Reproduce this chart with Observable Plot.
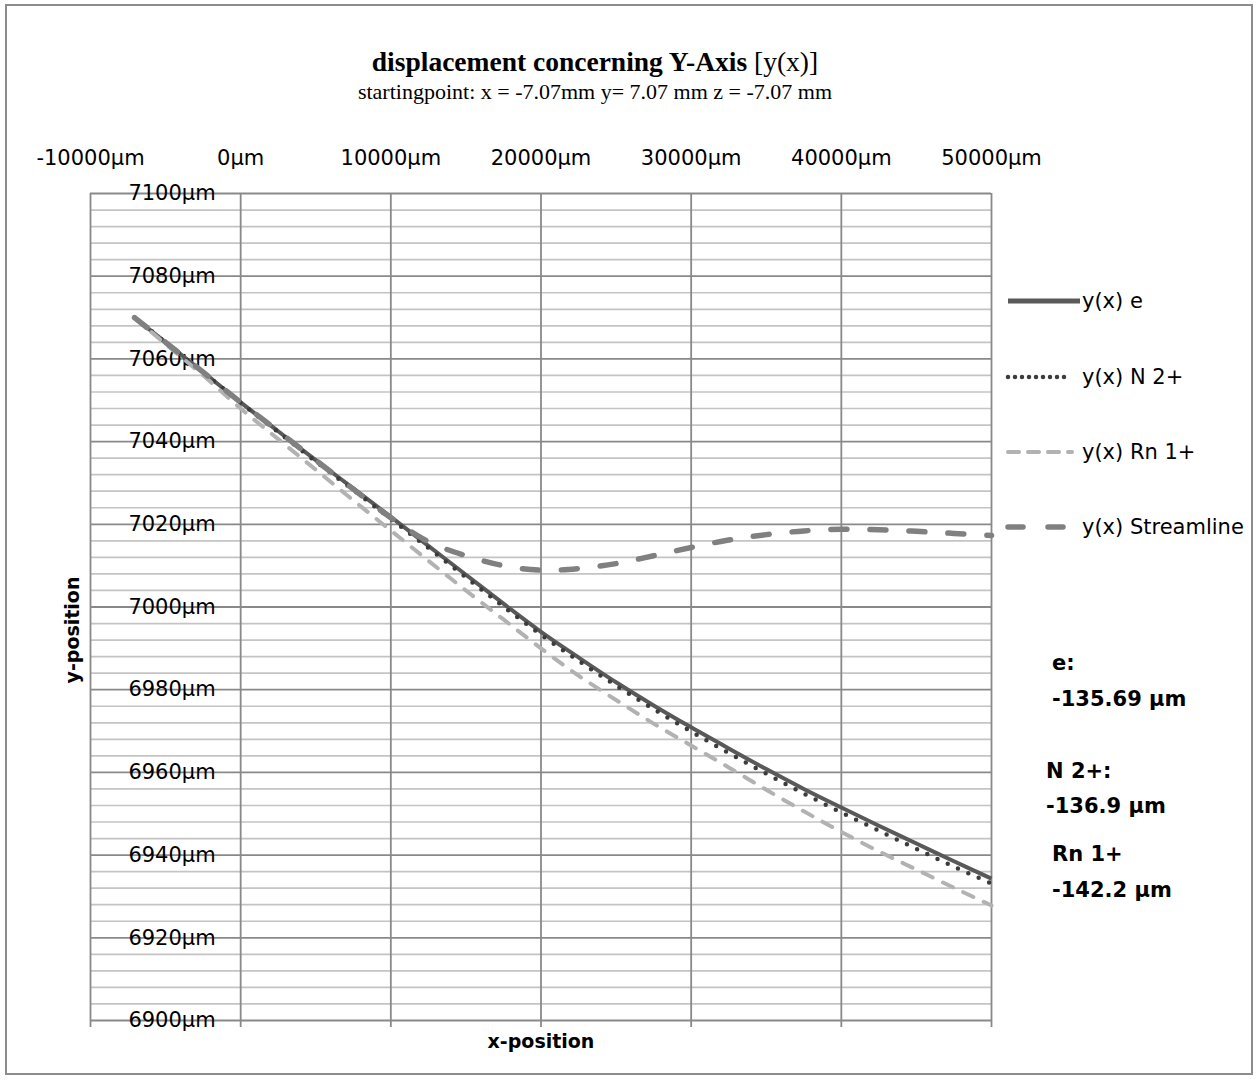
<!DOCTYPE html>
<html><head><meta charset="utf-8">
<script src="https://cdn.jsdelivr.net/npm/d3@7"></script>
<script src="https://cdn.jsdelivr.net/npm/@observablehq/plot@0.6"></script>
<style>
body{margin:0;background:#fff;}
#wrap{position:relative;width:1258px;height:1080px;overflow:hidden;}
#frame{position:absolute;left:5px;top:4px;width:1248px;height:1071px;border:2px solid #8c8c8c;box-sizing:border-box;pointer-events:none;}
.t{position:absolute;white-space:nowrap;height:30px;line-height:30px;color:#000;}
.sans{font-family:"DejaVu Sans",sans-serif;}
.serif{font-family:"Liberation Serif","Times New Roman",serif;}
#plot svg{display:block;}
</style>
</head><body>
<div id="wrap"><div id="plot"></div><div id="frame"></div></div>
<script>
// ---- data ----
const xPos = [-7070, -5000, -2500, 0, 2500, 5000, 7500, 10000, 12500, 15000, 17500, 20000,
              22500, 25000, 27500, 30000, 32500, 35000, 37500, 40000, 42500, 45000, 47500, 50000];
const yE = [7070, 7064, 7056.8, 7049.5, 7042.5, 7035.5, 7028.7, 7021.8, 7014.8, 7007.8, 7000.8, 6994,
            6987.8, 6981.8, 6976.2, 6970.9, 6965.8, 6960.8, 6956, 6951.5, 6947.1, 6942.8, 6938.5, 6934.3];
const yN2 = [7070, 7064, 7056.7, 7049.4, 7042.3, 7035.2, 7028.3, 7021.3, 7014.3, 7007.2, 7000.1, 6993.3,
             6987, 6981, 6975.3, 6969.9, 6964.7, 6959.7, 6954.9, 6950.3, 6945.9, 6941.5, 6937.2, 6933.1];
const yRn = [7070, 7063.6, 7056, 7048, 7040.6, 7033.2, 7025.8, 7018.5, 7011.2, 7004, 6997, 6990,
             6983.4, 6977.5, 6971.8, 6966.5, 6961.2, 6955.8, 6950.6, 6945.6, 6940.9, 6936.5, 6932.1, 6927.8];
const yStream = [7070, 7064, 7056.8, 7049.5, 7042.5, 7035.5, 7028.5, 7021.6, 7015.8, 7012.4, 7010, 7008.9,
                 7009.3, 7010.5, 7012.4, 7014.4, 7016.2, 7017.5, 7018.4, 7018.8, 7018.7, 7018.3, 7017.8, 7017.3];
const seriesNames = ["y(x) e", "y(x) N 2+", "y(x) Rn 1+", "y(x) Streamline"];
const xTicks = [-10000, 0, 10000, 20000, 30000, 40000, 50000];
const yTicks = [6900, 6920, 6940, 6960, 6980, 7000, 7020, 7040, 7060, 7080, 7100];
const yMinor = d3.range(6900, 7101, 4).filter(v => (v - 6900) % 20 !== 0);
const annotations = [["e:", "-135.69 µm"], ["N 2+:", "-136.9 µm"], ["Rn 1+", "-142.2 µm"]];

// ---- styles ----
const styles = [
  {stroke: "#595959", strokeWidth: 4, strokeDasharray: null, linecap: "butt", legendDash: null},
  {stroke: "#3c3c3c", strokeWidth: 4.5, strokeDasharray: "0 11.3", linecap: "round", legendDash: "0 7"},
  {stroke: "#b2b2b2", strokeWidth: 4, strokeDasharray: "11 11.5", linecap: "round", legendDash: "11 9"},
  {stroke: "#808080", strokeWidth: 5.5, strokeDasharray: "16 23", linecap: "round", legendDash: "15 25"}
];
const seriesY = [yE, yN2, yRn, yStream];
const rows = seriesY.map(ys => xPos.map((x, i) => ({x, y: ys[i]})));

const fmt = d => d + "µm";
const plot = Plot.plot({
  width: 1258, height: 1080,
  marginLeft: 90, marginRight: 267, marginTop: 193, marginBottom: 60,
  x: {domain: [-10000, 50000], axis: null},
  y: {domain: [6900, 7100], axis: null},
  style: {fontFamily: "DejaVu Sans", fontSize: "21px", background: "#fff", overflow: "visible"},
  marks: [
    Plot.ruleY(yMinor, {y: d => d, stroke: "#c4c4c4", strokeWidth: 1.7}),
    Plot.ruleY(yTicks, {y: d => d, stroke: "#898989", strokeWidth: 1.8}),
    Plot.ruleX(xTicks, {x: d => d, stroke: "#898989", strokeWidth: 1.8}),
    Plot.axisX({anchor: "bottom", ticks: xTicks, tickSize: 7, tickFormat: () => "", stroke: "#898989", strokeWidth: 1.8, label: null}),
    Plot.text(xTicks, {x: d => d, frameAnchor: "top", dy: -35, text: fmt, fontSize: 21, fill: "#000", lineAnchor: "middle"}),
    Plot.text(yTicks, {x: () => 0, y: d => d, text: fmt, textAnchor: "end", dx: -25, fontSize: 21, fill: "#000", lineAnchor: "middle"}),
    ...rows.map((r, i) => Plot.line(r, {x: "x", y: "y", curve: "catmull-rom",
      stroke: styles[i].stroke, strokeWidth: styles[i].strokeWidth,
      strokeDasharray: styles[i].strokeDasharray, strokeLinecap: styles[i].linecap}))
  ]
});
document.getElementById("plot").appendChild(plot);

// ---- text overlays ----
const wrap = document.getElementById("wrap");
function place(html, x, yc, cls, css) {
  const d = document.createElement("div");
  d.className = "t " + cls;
  d.innerHTML = html;
  d.style.left = x + "px";
  d.style.top = (yc - 15) + "px";
  Object.assign(d.style, css || {});
  wrap.appendChild(d);
  return d;
}
// title
place('<b>displacement concerning Y-Axis</b> [y(x)]', 0, 62, "serif", {fontSize: "27.5px", width: "1190px", textAlign: "center"});
place('startingpoint: x = -7.07mm y= 7.07 mm z = -7.07 mm', 0, 92, "serif", {fontSize: "22px", width: "1190px", textAlign: "center"});
// axis titles
place('<b>x-position</b>', 441, 1041, "sans", {fontSize: "19px", width: "200px", textAlign: "center"});
place('<b>y-position</b>', -28, 630, "sans", {fontSize: "19px", width: "200px", textAlign: "center", transform: "rotate(-90deg)"});
// annotations
const annPos = [[1052, 663, 699], [1046, 771, 806], [1052, 854, 890]];
annotations.forEach((a, i) => {
  place('<b>' + a[0] + '</b>', annPos[i][0], annPos[i][1], "sans", {fontSize: "21px"});
  place('<b>' + a[1] + '</b>', annPos[i][0], annPos[i][2], "sans", {fontSize: "21px"});
});
// legend
const legY = [301, 377, 452, 527];
const legLen = [72, 62, 64, 64];
seriesNames.forEach((name, i) => {
  const s = styles[i];
  const svg = document.createElementNS("http://www.w3.org/2000/svg", "svg");
  svg.setAttribute("width", 90); svg.setAttribute("height", 20);
  svg.style.position = "absolute"; svg.style.left = "1000px"; svg.style.top = (legY[i] - 10) + "px";
  const ln = document.createElementNS("http://www.w3.org/2000/svg", "line");
  ln.setAttribute("x1", 8); ln.setAttribute("x2", 8 + legLen[i]);
  ln.setAttribute("y1", 10); ln.setAttribute("y2", 10);
  ln.setAttribute("stroke", s.stroke); ln.setAttribute("stroke-width", s.strokeWidth + (i === 0 ? 1 : 0));
  if (s.legendDash) ln.setAttribute("stroke-dasharray", s.legendDash);
  ln.setAttribute("stroke-linecap", s.linecap);
  svg.appendChild(ln);
  wrap.appendChild(svg);
  place(name, 1082, legY[i], "sans", {fontSize: "21px"});
});
</script>
</body></html>
